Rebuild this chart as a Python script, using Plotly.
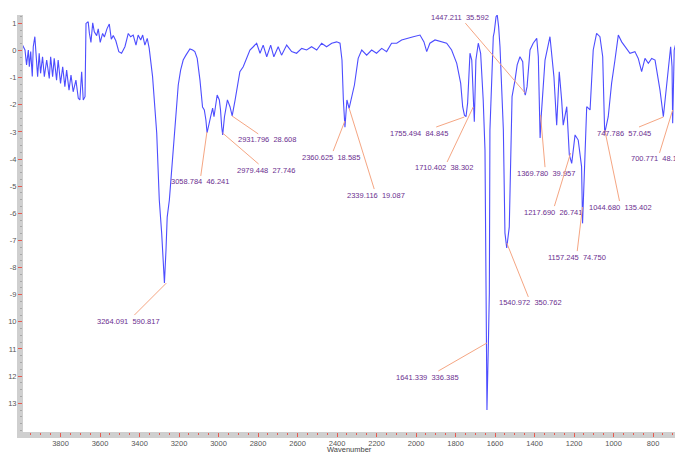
import plotly.graph_objects as go

# ---- spectrum data ----
wavenumber = [
    3992, 3980, 3972, 3963, 3958, 3951, 3943, 3938, 3930, 3921, 3916, 3908, 3901, 3891, 3882, 3870,
    3857, 3850, 3840, 3832, 3820, 3812, 3800, 3789, 3778, 3769, 3757, 3747, 3736, 3722, 3710, 3702,
    3693, 3685, 3676, 3671, 3660, 3654, 3646, 3637, 3629, 3617, 3609, 3599, 3587, 3578, 3565, 3553,
    3543, 3533, 3520, 3505, 3491, 3474, 3457, 3445, 3432, 3418, 3407, 3394, 3384, 3373, 3361, 3351,
    3334, 3313, 3300, 3288, 3280, 3274, 3266, 3260, 3249, 3229, 3212, 3204, 3192, 3179, 3165, 3145,
    3131, 3120, 3108, 3094, 3081, 3072, 3064, 3058, 3040, 3030, 3023, 3017, 3007, 2996, 2990, 2984,
    2979, 2970, 2955, 2942, 2931, 2916, 2903, 2892, 2875, 2858, 2841, 2824, 2807, 2790, 2774, 2756,
    2736, 2720, 2698, 2681, 2655, 2630, 2605, 2579, 2554, 2529, 2503, 2478, 2453, 2427, 2402, 2385,
    2375, 2368, 2363, 2360, 2350, 2339, 2312, 2293, 2275, 2250, 2225, 2200, 2174, 2149, 2124, 2098,
    2073, 2048, 2014, 1980, 1960, 1946, 1930, 1904, 1870, 1845, 1820, 1794, 1774, 1764, 1755, 1747,
    1739, 1727, 1718, 1710, 1705, 1697, 1685, 1673, 1660, 1651, 1646, 1641, 1633, 1629, 1626, 1617,
    1609, 1604, 1595, 1589, 1582, 1575, 1567, 1558, 1550, 1541, 1528, 1520, 1514, 1499, 1488, 1474,
    1460, 1452, 1447, 1438, 1423, 1407, 1389, 1381, 1376, 1372, 1366, 1347, 1322, 1312, 1302, 1288,
    1275, 1263, 1255, 1237, 1224, 1212, 1195, 1179, 1162, 1157, 1152, 1145, 1136, 1119, 1103, 1086,
    1069, 1055, 1045, 1027, 1010, 993, 976, 959, 942, 917, 892, 875, 858, 841, 824, 807,
    790, 765, 748, 731, 711, 704, 700.8, 693, 680,
]
absorbance = [
    0.20, 0.02, -0.53, 0.02, -0.60, -0.04, -0.96, 0.14, 0.51, -0.35, -0.96, -0.10, -0.84, -0.23, -0.96, -0.35,
    -1.03, -0.23, -0.96, -0.29, -1.09, -0.35, -1.21, -0.60, -1.33, -0.72, -1.46, -0.90, -1.52, -1.09, -1.76, -1.82,
    -0.78, -1.82, -1.70, 1.00, 1.06, 0.64, 0.30, 1.02, 0.69, 0.55, 0.80, 0.30, 0.63, 0.50, 0.80, 0.98,
    0.42, 0.55, 0.36, -0.04, -0.10, 0.14, 0.63, 0.51, 0.57, 0.20, 0.57, 0.39, 0.57, 0.20, 0.45, 0.08,
    -0.96, -3.04, -5.51, -6.72, -7.97, -8.57, -7.35, -6.14, -5.51, -3.67, -2.08, -1.27, -0.72, -0.35, -0.17, 0.06,
    0.02, -0.04, -0.29, -1.09, -2.08, -2.19, -2.56, -3.03, -2.44, -2.12, -2.44, -2.07, -1.64, -1.82, -2.19, -2.81,
    -3.11, -2.44, -1.82, -2.07, -2.41, -1.82, -1.15, -0.78, -0.60, -0.29, 0.02, 0.14, 0.27, -0.10, 0.20, -0.23,
    0.20, -0.23, 0.14, -0.17, 0.20, -0.04, -0.10, 0.08, 0.02, 0.14, 0.02, 0.27, 0.14, 0.27, 0.32, 0.27,
    -0.35, -1.82, -2.67, -2.83, -1.82, -2.13, -1.27, -0.29, 0.02, -0.17, 0.02, -0.10, 0.08, -0.04, 0.27, 0.27,
    0.39, 0.45, 0.51, 0.57, 0.32, -0.04, 0.27, 0.39, 0.32, 0.27, 0.02, -0.47, -1.21, -2.07, -2.38, -2.44,
    -1.94, -0.10, -0.35, -2.07, -2.62, -0.35, 0.27, -0.10, -1.82, -3.67, -8.94, -13.25, -10.50, -8.94, -2.93, -0.60,
    0.51, 0.69, 1.25, 1.31, 0.88, 0.14, -1.57, -2.93, -6.72, -7.28, -6.50, -2.93, -1.70, -1.09, -0.53, -0.23,
    -0.41, -1.52, -1.64, -1.33, 0.02, 0.27, 0.45, -0.23, -2.07, -3.22, -2.38, -0.35, 0.51, -0.23, -0.96, -2.75,
    -0.78, -1.82, -2.75, -2.07, -3.85, -4.16, -3.11, -3.30, -4.28, -6.37, -5.20, -3.67, -2.07, -2.19, 0.02, 0.63,
    0.51, -0.23, -3.05, -2.44, -1.21, -0.35, 0.57, 0.32, 0.14, -0.10, -0.04, -0.29, -0.78, -0.29, -0.47, -0.29,
    -0.35, -1.46, -2.44, -1.33, 0.14, -0.60, -2.68, 0.02, 0.40,
]

# ---- peak labels ----
peak_x = [3264.091, 3058.784, 2979.448, 2931.796, 2360.625, 2339.116, 1755.494, 1710.402,
          1447.211, 1369.780, 1217.690, 1157.245, 1044.680, 1540.972, 1641.339, 747.786, 700.771]
peak_y = [-8.57, -3.00, -3.04, -2.41, -2.60, -2.12, -2.45, -2.08,
          -1.57, -2.38, -3.78, -5.77, -2.93, -7.09, -10.78, -2.45, -2.19]
peak_val = ["590.817", "46.241", "27.746", "28.608", "18.585", "19.087", "84.845", "38.302",
            "35.592", "39.957", "26.741", "74.750", "135.402", "350.762", "336.385", "57.045", "48.160"]
# label offsets in pixels (layout only)
label_dx = [-38, -7, 43, 35, -14, 27, -45, -29, -65, 5, -18, -6, 16, 24, -59, -39, -15]
label_dy = [38, 50, 37, 24, 36, 87, 16, 61, -76, 58, 59, 50, 77, 60, 34, 16, 49]

y_ticks = list(range(1, -14, -1))
y_ticktext = ["1", "0", "-1", "-2", "-3", "-4", "-5", "-6", "-7", "-8", "-9", "10", "11", "12", "13"]
x_ticks = list(range(3800, 799, -200))

LINE = "#4d4dff"
RED = "#e85a50"
BAND = "#cfcfcf"
TXT = "#6b2f8f"
LEAD = "#f5a683"
FONT = "Liberation Sans, Arial, sans-serif"

fig = go.Figure()
fig.add_trace(go.Scatter(x=wavenumber, y=absorbance, mode="lines",
                         line=dict(color=LINE, width=1.1), hoverinfo="skip", showlegend=False))

for px_, py_, v, dx, dy in zip(peak_x, peak_y, peak_val, label_dx, label_dy):
    fig.add_annotation(x=px_, y=py_, ax=dx, ay=dy,
                       text=f"{px_:.3f}\u00a0\u00a0{v}",
                       showarrow=True, arrowhead=0, arrowwidth=1, arrowcolor=LEAD,
                       font=dict(family=FONT, size=7.5, color=TXT), borderpad=1)

fig.add_annotation(x=0.5, y=-0.043, xref="paper", yref="paper", text="Wavenumber",
                   showarrow=False, yanchor="middle",
                   font=dict(family=FONT, size=7.5, color="#444"))

# gray axis bands
W, H = 652, 417
fig.add_shape(type="rect", xref="paper", yref="paper", x0=-6 / W, x1=0, y0=-6 / H, y1=1,
              fillcolor=BAND, line=dict(width=0), layer="below")
fig.add_shape(type="rect", xref="paper", yref="paper", x0=-6 / W, x1=1, y0=-6 / H, y1=0,
              fillcolor=BAND, line=dict(width=0), layer="below")

fig.update_layout(
    width=675, height=452,
    margin=dict(l=23, r=0, t=15, b=20),
    paper_bgcolor="white", plot_bgcolor="white",
    font=dict(family=FONT, size=7.5, color="#555"),
    xaxis=dict(range=[3990, 689], tickmode="array", tickvals=x_ticks,
               ticks="outside", ticklen=4, tickcolor=RED, tickwidth=1,
               minor=dict(tickmode="linear", tick0=800, dtick=50, ticks="outside",
                          ticklen=2, tickcolor=RED),
               showgrid=False, zeroline=False, showline=False,
               tickfont=dict(family=FONT, size=7.5, color="#555")),
    yaxis=dict(range=[-14.06, 1.31], tickmode="array", tickvals=y_ticks, ticktext=y_ticktext,
               ticks="outside", ticklen=4, tickcolor=RED, tickwidth=1,
               minor=dict(tickmode="linear", tick0=0, dtick=0.25, ticks="outside",
                          ticklen=2, tickcolor="#a8a8a8"),
               showgrid=False, zeroline=False, showline=False,
               tickfont=dict(family=FONT, size=7.5, color="#555")),
)

fig.write_html("out.html", config={"displayModeBar": False},
               post_script="document.body.style.margin='0px';")
